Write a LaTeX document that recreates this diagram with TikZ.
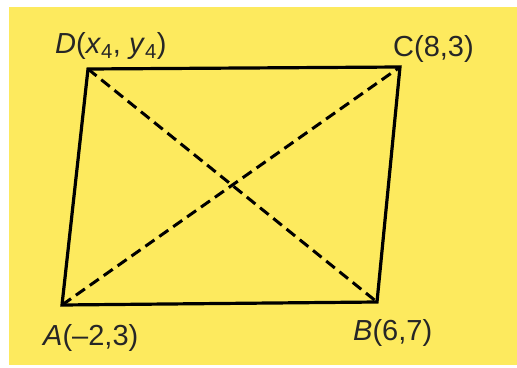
\documentclass[tikz,border=0pt]{standalone}
\usepackage{fontspec}
\setmainfont{Liberation Sans}
\definecolor{bgyellow}{RGB}{253,234,94}
\begin{document}
\begin{tikzpicture}[x=1pt,y=-1pt,
  side/.style={line width=3.2pt,line join=miter},
  diag/.style={line width=3pt,dash pattern=on 11pt off 6pt},
  lbl/.style={anchor=base west,inner sep=0pt,text=black!85,font=\fontsize{29}{32}\selectfont}]
\useasboundingbox (0,0) rectangle (517,367);
\fill[bgyellow] (9,7) rectangle (517,365);
\coordinate (A) at (62,305);
\coordinate (B) at (377,302);
\coordinate (C) at (400,67);
\coordinate (D) at (88,69);
\draw[side] (A) -- (B) -- (C) -- (D) -- cycle;
\draw[diag] (A) -- (C);
\draw[diag] (D) -- (B);
\node[lbl] (lD) at (55,53) {\textit{D}(\textit{x}\textsubscript{4}, \textit{y}\textsubscript{4})};
\node[lbl] (lC) at (393,56) {C(8,3)};
\node[lbl] (lA) at (43,345) {\textit{A}(–2,3)};
\node[lbl] (lB) at (353,340) {\textit{B}(6,7)};
\end{tikzpicture}
\end{document}
